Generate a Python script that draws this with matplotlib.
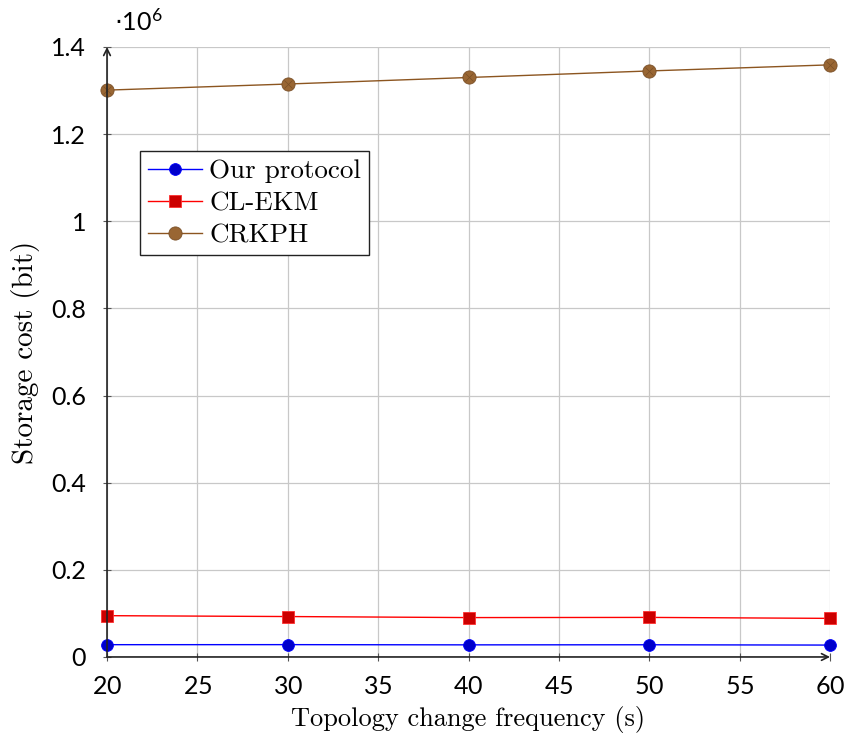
import matplotlib.pyplot as plt
from matplotlib.ticker import FuncFormatter, MultipleLocator

# topology change frequency (s)
freq = [20, 30, 40, 50, 60]

# storage cost (bit)
ours = [28200, 28300, 27800, 28000, 27300]
cl_ekm = [94800, 92800, 90400, 90800, 88600]
crkph = [1301000, 1315000, 1330000, 1345000, 1359000]

serif = ['cmr10', 'DejaVu Serif']
plt.rcParams['axes.formatter.use_mathtext'] = True

fig = plt.figure(figsize=(8.5, 7.4), dpi=100)
ax = fig.add_axes([0.1259, 0.1122, 0.8506, 0.8243])

ax.plot(freq, ours, color='#0000ff', lw=1.0, marker='o', ms=8.5,
        mfc='#0000cc', mec='#0000ff', mew=0.6, label='Our protocol', clip_on=False, zorder=4)
ax.plot(freq, cl_ekm, color='#ff0000', lw=1.0, marker='s', ms=8,
        mfc='#cc0000', mec='#ff3030', mew=0.6, label='CL-EKM', clip_on=False, zorder=4)
ax.plot(freq, crkph, color='#8c5520', lw=1.0, marker='o', ms=9.5,
        mfc='#996633', mec='#7a5028', mew=0.6, label='CRKPH', clip_on=False, zorder=4)
# cross inside the brown markers (otimes style)
ax.plot(freq, crkph, ls='none', marker='x', ms=6, mec='#7a4f26', mew=0.5,
        clip_on=False, zorder=5)

ax.set_xlim(20, 60)
ax.set_ylim(0, 1.4e6)
ax.xaxis.set_major_locator(MultipleLocator(5))
ax.yaxis.set_major_locator(MultipleLocator(0.2e6))
ax.yaxis.set_major_formatter(FuncFormatter(lambda v, p: f'{v / 1e6:g}'))

ax.grid(True, color='#c8c8c8', lw=0.9)
ax.set_axisbelow(True)
for s in ax.spines.values():
    s.set_visible(False)
ax.tick_params(direction='inout', length=6, width=0.8, color='#555555',
               labelsize=18)
ax.tick_params(axis='y', pad=12)
ax.tick_params(axis='x', pad=10)
for lab in ax.get_xticklabels() + ax.get_yticklabels():
    lab.set_family('Lato')

# axis lines with arrow heads
arrow = dict(arrowstyle='->', color='#222222', lw=1.2, shrinkA=0, shrinkB=0,
             mutation_scale=12)
ax.annotate('', xy=(0, 1), xytext=(0, 0), xycoords='axes fraction', arrowprops=arrow, zorder=6)
ax.annotate('', xy=(1, 0), xytext=(0, 0), xycoords='axes fraction', arrowprops=arrow, zorder=6)

ax.text(0.01, 1.02, r'$\cdot\mathregular{10^6}$', transform=ax.transAxes,
        fontsize=18, family='Lato', ha='left', va='bottom')

ax.set_xlabel('Topology change frequency (s)', family=serif, fontsize=19, labelpad=6)
ax.set_ylabel('Storage cost (bit)', family=serif, fontsize=21, labelpad=8)

leg = ax.legend(loc='upper left', bbox_to_anchor=(0.0456, 0.8295), prop={'family': serif, 'size': 19.5},
                fancybox=False, edgecolor='#222222', framealpha=1, borderpad=0.3,
                handlelength=2.0, handletextpad=0.25, labelspacing=0.3, borderaxespad=0)
leg.get_frame().set_linewidth(1.0)

plt.savefig('out.png', dpi=100)
